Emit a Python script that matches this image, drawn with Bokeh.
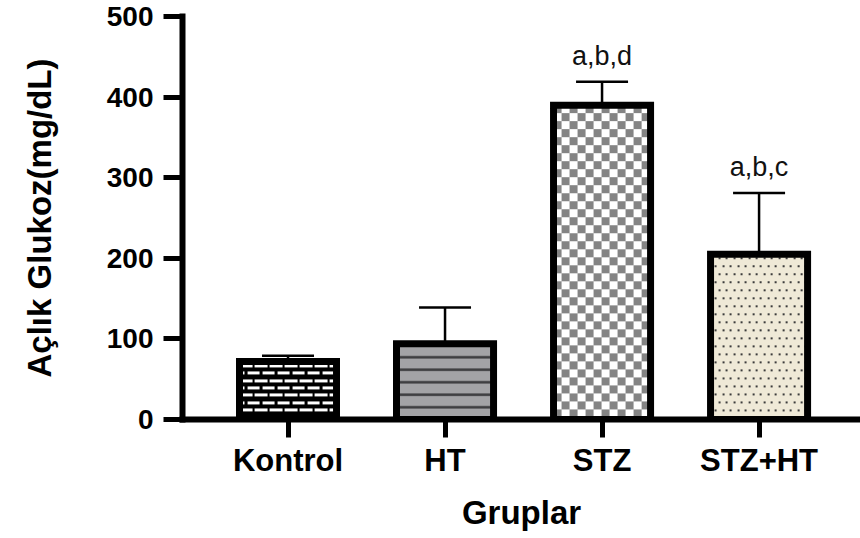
import numpy as np
from bokeh.plotting import figure
from bokeh.models import ColumnDataSource, Whisker, TeeHead, FixedTicker
from bokeh.core.properties import value
from bokeh.embed import file_html
from bokeh.resources import INLINE

groups = ["Kontrol", "HT", "STZ", "STZ+HT"]
means = [72, 94, 390, 205]
sds = [7, 45, 29, 76]
letters = ["", "", "a,b,d", "a,b,c"]
yticks = [0, 100, 200, 300, 400, 500]

xs = list(range(len(groups)))
uppers = [m + s for m, s in zip(means, sds)]

FONT = "Liberation Sans"
X0, X1, Y0, Y1 = -0.672, 3.646, 0, 500
W, H = 860, 538
BL, BR, BT, BB = 182, 0, 16, 119
BAR_W = 0.618
PX_X = (W - BL - BR) / (X1 - X0)
PX_Y = (H - BT - BB) / (Y1 - Y0)

p = figure(width=W, height=H, x_range=(X0, X1), y_range=(Y0, Y1),
           output_backend="svg", toolbar_location=None,
           min_border_left=BL, min_border_right=BR, min_border_top=BT, min_border_bottom=BB)
p.outline_line_color = None
p.grid.visible = False
p.background_fill_color = "white"
p.border_fill_color = "white"


def rgba(arr_rgb):
    ny, nx, _ = arr_rgb.shape
    img = np.empty((ny, nx), dtype=np.uint32)
    v = img.view(dtype=np.uint8).reshape((ny, nx, 4))
    v[..., :3] = arr_rgb
    v[..., 3] = 255
    return img


def texture(kind, ny, nx):
    yy, xx = np.mgrid[0:ny, 0:nx].astype(float)
    yy = (ny - 1) - yy  # row 0 is bottom in bokeh images; measure from top
    out = np.zeros((ny, nx, 3), dtype=np.uint8)
    if kind == "brick":
        r = np.floor(yy / 7.4)
        pos = yy - r * 7.4
        off = (r % 2) * 7.5
        white = (pos >= 2.2) & (pos < 5.2) & (((xx + off) % 15) < 12.5)
        out[...] = 0
        out[white] = 255
    elif kind == "checker":
        c = ((np.floor(xx / 8) + np.floor(yy / 8)) % 2) == 0
        out[...] = 255
        out[c] = (0x84, 0x84, 0x84)
    elif kind == "dots":
        out[...] = (0xEF, 0xE9, 0xD7)
        r = np.floor(yy / 8)
        off = (r % 2) * 3.75
        d = ((yy - r * 8) >= 3) & ((yy - r * 8) < 5) & (((xx + off) % 7.5) < 2)
        out[d] = (0x3C, 0x3C, 0x3C)
    return rgba(out)


kinds = ["brick", None, "checker", "dots"]

for i in xs:
    if kinds[i] is not None:
        nx = int(round(BAR_W * PX_X))
        ny = int(round(means[i] * PX_Y))
        p.image_rgba(image=[texture(kinds[i], ny, nx)], x=xs[i] - BAR_W / 2, y=0,
                     dw=BAR_W, dh=means[i])

for i in xs:
    src = ColumnDataSource(dict(x=[xs[i]], top=[means[i]]))
    if kinds[i] is None:
        p.vbar(x="x", top="top", bottom=0, width=BAR_W, source=src,
               line_color="black", line_width=7, line_join="miter",
               fill_color="#a3a3a6", hatch_pattern="horizontal_line", hatch_scale=12.5,
               hatch_weight=2.5, hatch_color="#3a3a3c")
    else:
        p.vbar(x="x", top="top", bottom=0, width=BAR_W, source=src,
               line_color="black", line_width=7, line_join="miter", fill_color=None)

esrc = ColumnDataSource(dict(base=xs, lower=means, upper=uppers, label=letters))
w = Whisker(base="base", lower="lower", upper="upper", source=esrc,
            line_color="black", line_width=2.5,
            upper_head=TeeHead(size=52, line_width=2.5, line_color="black"),
            lower_head=None)
p.add_layout(w)

p.text(x="base", y="upper", text="label", source=esrc,
       text_align="center", text_baseline="alphabetic", y_offset=-26,
       text_font=value(FONT), text_font_size="27px", text_color="#111111")

# Axes
for ax in (p.xaxis[0], p.yaxis[0]):
    ax.axis_line_width = 6
    ax.axis_line_color = "black"
    ax.axis_line_cap = "square"
    ax.major_tick_line_width = 5
    ax.major_tick_line_color = "black"
    ax.major_tick_in = 0
    ax.minor_tick_in = 0
    ax.minor_tick_out = 0
    ax.major_label_text_font = FONT
    ax.major_label_text_font_style = "bold"
    ax.major_label_text_color = "black"
    ax.axis_label_text_font = FONT
    ax.axis_label_text_font_style = "bold"
    ax.axis_label_text_color = "black"

p.yaxis.ticker = FixedTicker(ticks=yticks)
p.yaxis.major_tick_out = 19
p.yaxis.major_label_text_font_size = "28px"
p.yaxis.major_label_standoff = 10
p.yaxis.axis_label = "Açlık Glukoz(mg/dL)"
p.yaxis.axis_label_text_font_size = "33px"
p.yaxis.axis_label_standoff = 46

p.xaxis.ticker = FixedTicker(ticks=xs)
p.xaxis.major_label_overrides = {i: g for i, g in zip(xs, groups)}
p.xaxis.major_tick_out = 18
p.xaxis.major_label_text_font_size = "31px"
p.xaxis.major_label_standoff = 5
p.xaxis.axis_label = "Gruplar"
p.xaxis.axis_label_text_font_size = "33px"
p.xaxis.axis_label_standoff = 13

open("out.html", "w").write(file_html(p, INLINE))
